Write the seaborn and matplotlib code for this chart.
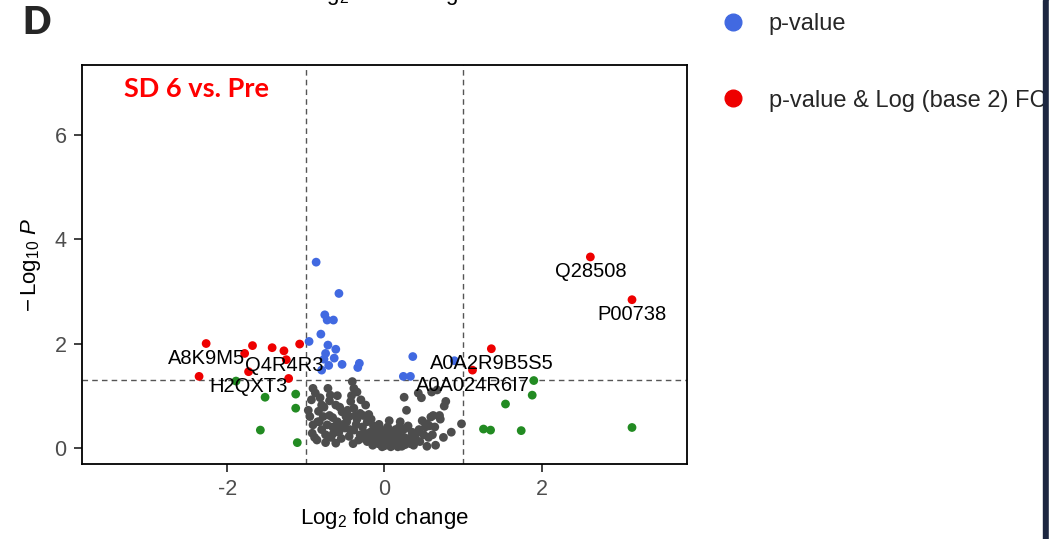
import matplotlib
matplotlib.use("Agg")
import matplotlib.pyplot as plt
import seaborn as sns
import pandas as pd
from matplotlib.lines import Line2D
from matplotlib.patches import Rectangle

# ---------------- data ----------------
red_x = [2.62, 3.15, 1.36, 1.12, -2.27, -2.36, -1.78, -1.68, -1.73, -1.43, -1.28, -1.25, -1.08, -1.22]
red_y = [3.66, 2.84, 1.90, 1.49, 2.00, 1.37, 1.81, 1.96, 1.46, 1.92, 1.86, 1.69, 1.99, 1.33]

blue_x = [-0.87, -0.58, -0.76, -0.73, -0.65, -0.81, -0.96, -0.72, -0.62, -0.75, -0.64,
          -0.77, -0.71, -0.54, -0.34, -0.32, -0.80, 0.36, 0.24, 0.33, 0.89]
blue_y = [3.56, 2.96, 2.55, 2.45, 2.45, 2.18, 2.04, 1.97, 1.89, 1.81, 1.72,
          1.70, 1.58, 1.60, 1.54, 1.62, 1.49, 1.75, 1.37, 1.37, 1.67]

green_x = [-1.89, -1.52, -1.13, -1.13, -1.58, -1.11, 1.90, 1.88, 1.54, 1.26, 1.35, 1.74, 3.15]
green_y = [1.28, 0.97, 1.03, 0.76, 0.34, 0.10, 1.29, 1.01, 0.84, 0.36, 0.34, 0.33, 0.39]

grey_x = [-0.91, -0.88, -0.82, -0.80, -0.95, -0.91, -0.92, -0.72, -0.69, -0.62, -0.54, -0.73,
          -0.65, -0.60, -0.80, -0.86, -0.75, -0.62, -0.68, -0.55, -0.97, -0.78, -0.70,
          -0.41, -0.39, -0.35, -0.43, -0.39, -0.31, -0.48, -0.39, -0.31, -0.22, -0.22,
          -0.24, -0.45, -0.50, -0.28, -0.35, -0.18, -0.20, -0.30, -0.45, -0.33, -0.40,
          -0.15, -0.12, -0.10, -0.08, -0.05, -0.02, 0.00, 0.02, 0.05, 0.08, 0.10, 0.12,
          0.15, 0.18, 0.20, 0.22, 0.25, 0.28, -0.14, -0.06, 0.04, 0.14, -0.17, 0.06,
          -0.10, 0.00, 0.10, -0.03, 0.17, -0.20, 0.24, 0.30,
          0.25, 0.47, 0.43, 0.60, 0.67, 0.78, 0.76, 0.59, 0.48, 0.54, 0.98, 0.61, 0.39,
          0.54, 0.37, 0.20, 0.27, 0.35, 0.52, 0.40, 0.65, 0.75, 0.85, 0.28, 0.70, 0.62,
          0.45, 0.32, -0.58, -0.85, -0.66, -0.27, -0.12, 0.08,
          -0.93, -0.84, -0.77, -0.70, -0.66, -0.58, -0.52, -0.47, -0.44, -0.36, -0.26,
          -0.16, -0.07, 0.03, 0.13, 0.19, 0.26, 0.33, 0.42, 0.50, 0.57, 0.64, 0.71,
          -0.89, -0.83, -0.75, -0.57, -0.49, -0.37, -0.25, -0.13, -0.04, 0.06, 0.16,
          0.23, 0.31, 0.44, 0.56, -0.60, -0.42]
grey_y = [1.14, 1.05, 0.96, 0.82, 0.60, 0.44, 0.28, 1.14, 1.01, 0.82, 0.69, 0.44,
          0.28, 0.50, 0.35, 0.15, 0.10, 0.09, 0.20, 0.18, 0.72, 0.60, 0.62,
          1.27, 1.14, 1.07, 0.89, 0.76, 0.66, 0.50, 0.34, 0.25, 0.12, 0.50,
          0.82, 0.22, 0.38, 0.40, 0.55, 0.30, 0.64, 0.92, 0.60, 0.15, 0.08,
          0.05, 0.18, 0.32, 0.08, 0.25, 0.12, 0.04, 0.22, 0.10, 0.30, 0.05, 0.18,
          0.08, 0.25, 0.12, 0.03, 0.20, 0.10, 0.42, 0.38, 0.40, 0.35, 0.55, 0.52,
          0.15, 0.30, 0.20, 0.02, 0.02, 0.22, 0.35, 0.42,
          0.97, 0.96, 1.05, 1.07, 1.11, 0.89, 0.80, 0.59, 0.52, 0.46, 0.46, 0.25, 0.22,
          0.03, 0.05, 0.50, 0.38, 0.30, 0.40, 0.15, 0.05, 0.20, 0.30, 0.72, 0.62, 0.62,
          0.12, 0.12, 0.40, 0.50, 0.58, 0.62, 0.10, 0.02,
          0.92, 0.70, 0.78, 0.90, 0.40, 0.30, 0.45, 0.72, 0.35, 0.45, 0.18,
          0.22, 0.45, 0.15, 0.28, 0.40, 0.06, 0.08, 0.30, 0.25, 0.42, 0.40, 0.55,
          0.20, 0.50, 0.25, 0.78, 0.60, 0.62, 0.28, 0.10, 0.20, 0.18, 0.15,
          0.15, 0.18, 0.35, 0.20, 1.00, 1.00]

label_names = ["Q28508", "P00738", "A0A2R9B5S5", "A0A024R6I7", "A8K9M5", "Q4R4R3", "H2QXT3"]
label_x = [2.62, 3.15, 1.36, 1.12, -2.27, -1.28, -1.73]
label_y = [3.66, 2.84, 1.90, 1.49, 2.00, 1.86, 1.46]

x_ticks = [-2, 0, 2]
y_ticks = [0, 2, 4, 6]
fc_cut = 1.0
p_cut = 1.3

groups = ["NS", "Log2 FC", "p-value", "p-value & Log (base 2) FC"]
colors = {"NS": "#4d4d4d", "Log2 FC": "#228B22", "p-value": "#4169E1",
          "p-value & Log (base 2) FC": "#EE0000"}

df = pd.concat([
    pd.DataFrame({"x": grey_x, "y": grey_y, "group": "NS"}),
    pd.DataFrame({"x": green_x, "y": green_y, "group": "Log2 FC"}),
    pd.DataFrame({"x": blue_x, "y": blue_y, "group": "p-value"}),
    pd.DataFrame({"x": red_x, "y": red_y, "group": "p-value & Log (base 2) FC"}),
], ignore_index=True)

# ---------------- style ----------------
sns.set_theme(style="white")
plt.rcParams["font.family"] = ["Liberation Sans", "DejaVu Sans"]
plt.rcParams["mathtext.fontset"] = "custom"
plt.rcParams["mathtext.rm"] = "Liberation Sans"
plt.rcParams["mathtext.it"] = "Liberation Sans:italic"
plt.rcParams["axes.unicode_minus"] = False

W, H = 1059, 539
fig = plt.figure(figsize=(W / 100, H / 100), dpi=100)
fig.patch.set_facecolor("white")
ax = fig.add_axes([82 / W, 1 - 464 / H, (687 - 82) / W, (464 - 65) / H])

sns.scatterplot(data=df, x="x", y="y", hue="group", palette=colors, hue_order=groups,
                s=40, linewidth=0, alpha=1, legend=False, ax=ax, zorder=3)

ax.axvline(-fc_cut, color="#555555", lw=1.0, ls=(0, (4, 3)), zorder=2)
ax.axvline(fc_cut, color="#555555", lw=1.0, ls=(0, (4, 3)), zorder=2)
ax.axhline(p_cut, color="#555555", lw=1.0, ls=(0, (4, 3)), zorder=2)

for name, lx, ly in zip(label_names, label_x, label_y):
    ax.annotate(name, xy=(lx, ly), xytext=(0, -15), textcoords="offset pixels",
                ha="center", va="center", fontsize=14.5, color="black", zorder=4)

ax.set_xlim(-3.85, 3.85)
ax.set_ylim(-0.31, 7.34)
ax.set_xticks(x_ticks)
ax.set_yticks(y_ticks)
ax.set_xticklabels([str(t) for t in x_ticks])
ax.set_yticklabels([str(t) for t in y_ticks])
ax.tick_params(axis="both", which="major", direction="out", length=6, width=1.3,
               color="#333333", labelsize=15.5, labelcolor="#4d4d4d", pad=5,
               bottom=True, left=True)
for sp in ax.spines.values():
    sp.set_visible(True)
    sp.set_color("black")
    sp.set_linewidth(1.3)

ax.set_xlabel(r"$\mathrm{Log}_{2}$ fold change", fontsize=16, color="black", labelpad=4)
ax.set_ylabel(r"$-\,\mathrm{Log}_{10}\ \mathit{P}$", fontsize=16, color="black", labelpad=8)

ax.text(0.069, 0.94, "SD 6 vs. Pre", transform=ax.transAxes, color="#ff0000",
        fontsize=19.5, fontweight="bold", family=["Lato", "DejaVu Sans"], va="center", ha="left")

fig.text(22 / W, 1 - 23 / H, "D", fontsize=27, fontweight="heavy",
         family=["Lato", "DejaVu Sans"], va="center", ha="left")

# cut-off x label of the panel above
fig.text(386 / W, 1 - 0 / H, r"$\mathrm{Log}_{2}$ fold change", fontsize=16, ha="center",
         va="baseline", color="black")

handles = [Line2D([], [], marker="o", ls="", color=colors["p-value"], markersize=12),
           Line2D([], [], marker="o", ls="", color=colors["p-value & Log (base 2) FC"], markersize=12)]
fig.legend(handles, ["p-value", "p-value & Log (base 2) FC"], loc="upper left",
           bbox_to_anchor=(712 / W, 1 - 4 / H), frameon=False, fontsize=17,
           labelspacing=2.3, handletextpad=1.0, borderaxespad=0, handlelength=1.0)

fig.add_artist(Rectangle((1043 / W, 0), 6 / W, 1, transform=fig.transFigure,
                         color="#1c2640", zorder=20))
fig.add_artist(Rectangle((1049 / W, 0), 10 / W, 1, transform=fig.transFigure,
                         color="white", zorder=20))

fig.savefig("out.png", dpi=100)
